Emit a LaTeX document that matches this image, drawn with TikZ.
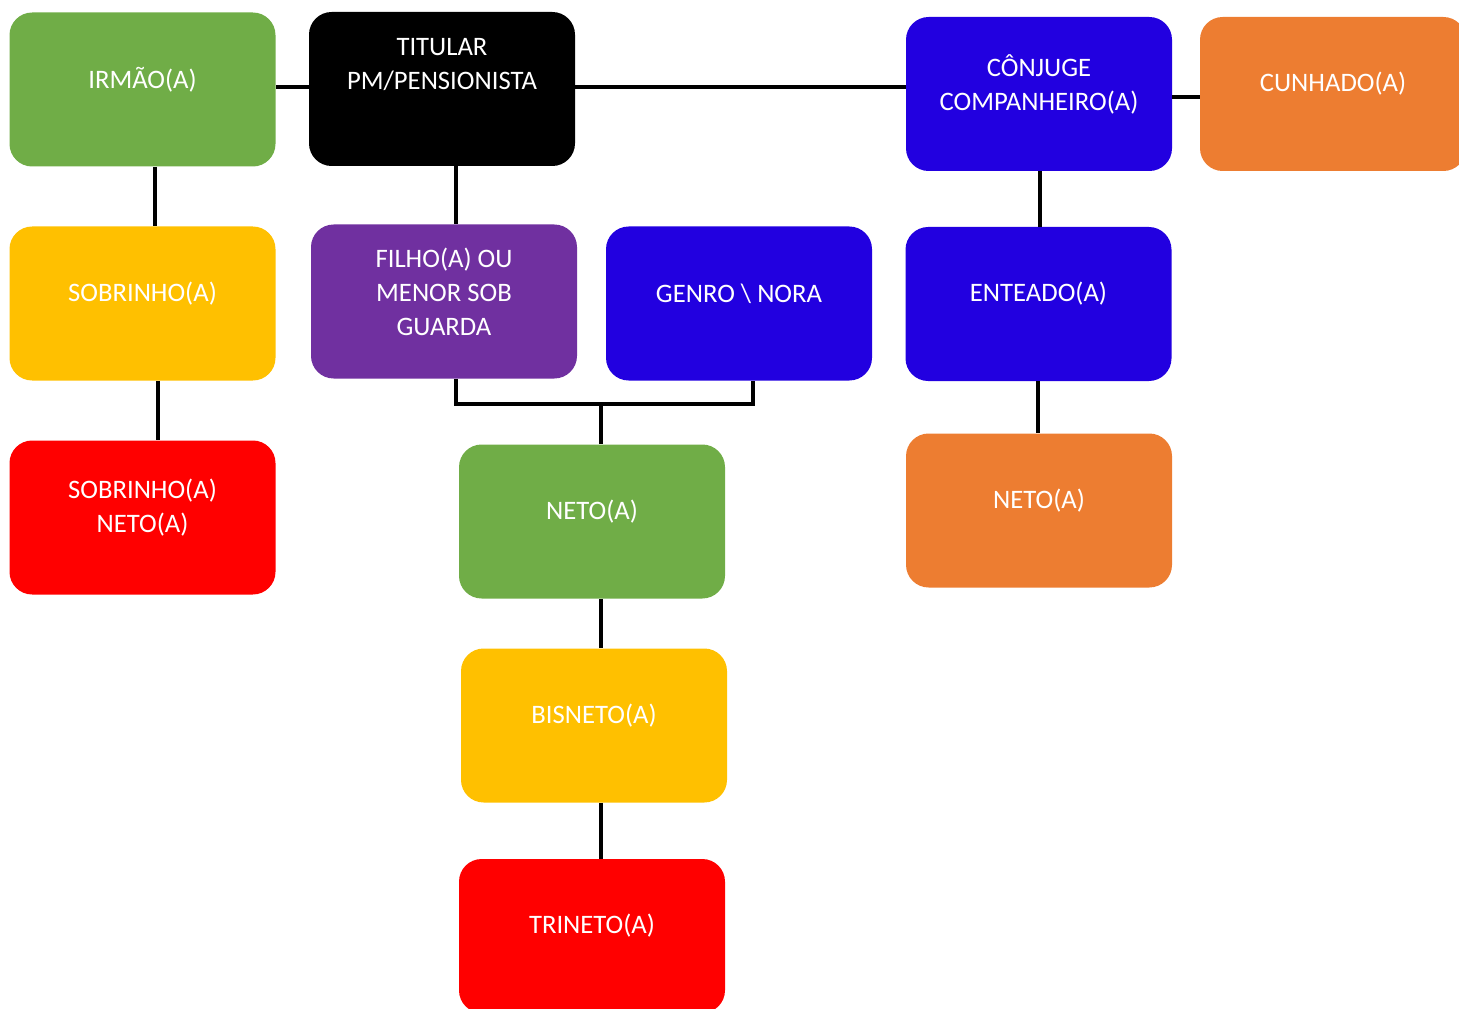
\documentclass[tikz,border=0pt]{standalone}
\usepackage{fontspec}
\setmainfont{Carlito}
\definecolor{cgreen}{HTML}{70AD47}
\definecolor{cblue}{HTML}{2200E0}
\definecolor{corange}{HTML}{ED7D31}
\definecolor{cyellow}{HTML}{FFC000}
\definecolor{cpurple}{HTML}{7030A0}
\definecolor{cred}{HTML}{FF0000}
\tikzset{
  box/.style={rectangle, rounded corners=17pt, draw=none, fill=#1,
    minimum width=199.5pt, minimum height=115.5pt, inner sep=0pt},
  lbl/.style={text=white, font=\fontsize{20pt}{25.5pt}\selectfont, align=center, yshift=7.5pt},
  conn/.style={line width=3pt, draw=black}
}
\begin{document}
\begin{tikzpicture}[x=0.75pt, y=-0.75pt]
\useasboundingbox (0,0) rectangle (1459,1009);
\clip (0,0) rectangle (1459,1009);
\node[box=cgreen, label={[lbl]center:IRMÃO(A)}] (irmao) at (142.5,89.5) {};
\node[box=black, label={[lbl, yshift=10.5pt]center:TITULAR\\PM/PENSIONISTA}] (titular) at (442,89) {};
\node[box=cblue, label={[lbl]center:CÔNJUGE\\COMPANHEIRO(A)}] (conjuge) at (1039,94) {};
\node[box=corange, label={[lbl]center:CUNHADO(A)}] (cunhado) at (1333,94) {};
\node[box=cyellow, label={[lbl]center:SOBRINHO(A)}] (sobrinho) at (142.5,303.5) {};
\node[box=cpurple, label={[lbl]center:FILHO(A) OU\\MENOR SOB\\GUARDA}] (filho) at (444,301.5) {};
\node[box=cblue, label={[lbl]center:GENRO \textbackslash{} NORA}] (genro) at (739,303.5) {};
\node[box=cblue, label={[lbl]center:ENTEADO(A)}] (enteado) at (1038.5,304) {};
\node[box=cred, label={[lbl]center:SOBRINHO(A)\\NETO(A)}] (sobneto) at (142.5,517.5) {};
\node[box=cgreen, label={[lbl]center:NETO(A)}] (neto) at (592,521.5) {};
\node[box=corange, label={[lbl]center:NETO(A)}] (netob) at (1039,510.5) {};
\node[box=cyellow, label={[lbl]center:BISNETO(A)}] (bisneto) at (594,725.5) {};
\node[box=cred, label={[lbl]center:TRINETO(A)}] (trineto) at (592,936) {};
\coordinate (jl) at (456,404);
\coordinate (jr) at (753,404);
\coordinate (jm) at (601,404);
% connectors
\draw[conn] ([yshift=1.9pt]irmao.east) -- ([yshift=1.9pt]irmao.east -| titular.west);
\draw[conn] ([yshift=1.5pt]titular.east) -- ([yshift=1.5pt]titular.east -| conjuge.west);
\draw[conn] ([yshift=-2.25pt]conjuge.east) -- ([yshift=-2.25pt]cunhado.west);
\draw[conn] ([xshift=9.4pt]irmao.south) -- ([xshift=9.4pt]irmao.south |- sobrinho.north);
\draw[conn] ([xshift=11.6pt]sobrinho.south) -- ([xshift=11.6pt]sobrinho.south |- sobneto.north);
\draw[conn] ([xshift=10.5pt]titular.south) -- ([xshift=10.5pt]titular.south |- filho.north);
\draw[conn] (jl |- filho.south) -- (jl) -- (jr) -- (jr |- genro.south);
\draw[conn] (jm) -- (jm |- neto.north);
\draw[conn] (jm |- neto.south) -- (jm |- bisneto.north);
\draw[conn] (jm |- bisneto.south) -- (jm |- trineto.north);
\draw[conn] ([xshift=0.75pt]conjuge.south) -- ([xshift=0.75pt]conjuge.south |- enteado.north);
\draw[conn] ([xshift=-0.4pt]enteado.south) -- ([xshift=-0.4pt]enteado.south |- netob.north);
\end{tikzpicture}
\end{document}
